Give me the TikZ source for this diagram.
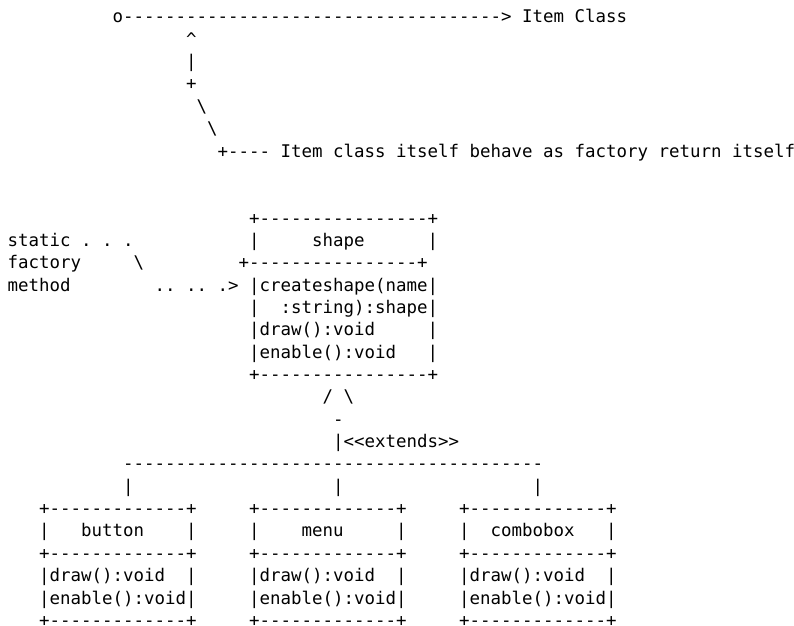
\documentclass[tikz,border=0pt]{standalone}
\usepackage{fontspec}
\setmonofont{DejaVu Sans Mono}
\ExplSyntaxOn
\cs_new:Npn \dashrep #1 { \prg_replicate:nn {#1} {-} }
\ExplSyntaxOff
\tikzset{asciitxt/.style={anchor=base west,inner sep=0pt,outer sep=0pt,
  font=\ttfamily\fontsize{17.44}{22.35}\selectfont,text=black}}
% \ascii{name}{column}{line}{text}
\newcommand\ascii[4]{\node[asciitxt] (#1) at ({7.55pt+#2*10.5pt},{-22.9pt-#3*22.35pt}) {#4};}
\begin{document}
\begin{tikzpicture}
\useasboundingbox (0,0) rectangle (794pt,-625pt);
% top note
\ascii{arrowline}{10}{0}{o\dashrep{36}>}
\ascii{itemclass}{49}{0}{Item Class}
\ascii{caret}{17}{1}{\textasciicircum}
\ascii{bar1}{17}{2}{|}
\ascii{plus1}{17}{3}{+}
\ascii{bs1}{18}{4}{\textbackslash}
\ascii{bs2}{19}{5}{\textbackslash}
\ascii{plus2}{20}{6}{+\dashrep{4}}
\ascii{note}{26}{6}{Item class itself behave as factory return itself}
% shape box
\ascii{shtop}{23}{9}{+\dashrep{16}+}
\ascii{static}{0}{10}{static . . .}
\ascii{shl}{23}{10}{|}
\ascii{shname}{29}{10}{shape}
\ascii{shr}{40}{10}{|}
\ascii{factory}{0}{11}{factory}
\ascii{bs3}{12}{11}{\textbackslash}
\ascii{shmid}{22}{11}{+\dashrep{16}+}
\ascii{method}{0}{12}{method}
\ascii{dots}{14}{12}{.. .. .>}
\ascii{create}{23}{12}{|createshape(name|}
\ascii{strl}{23}{13}{|}
\ascii{str}{26}{13}{:string):shape|}
\ascii{sdraw}{23}{14}{|draw():void}
\ascii{sdrawr}{40}{14}{|}
\ascii{senable}{23}{15}{|enable():void}
\ascii{senabler}{40}{15}{|}
\ascii{shbot}{23}{16}{+\dashrep{16}+}
% inheritance
\ascii{tri}{30}{17}{/ \textbackslash}
\ascii{tribase}{31}{18}{-}
\ascii{extends}{31}{19}{|<{}<extends>{}>}
\ascii{hline}{11}{20}{\dashrep{40}}
\ascii{v1}{11}{21}{|}
\ascii{v2}{31}{21}{|}
\ascii{v3}{50}{21}{|}
% button
\ascii{btop}{3}{22}{+\dashrep{13}+}
\ascii{bl}{3}{23}{|}
\ascii{bname}{7}{23}{button}
\ascii{br}{17}{23}{|}
\ascii{bmid}{3}{24}{+\dashrep{13}+}
\ascii{bdraw}{3}{25}{|draw():void}
\ascii{bdrawr}{17}{25}{|}
\ascii{benable}{3}{26}{|enable():void|}
\ascii{bbot}{3}{27}{+\dashrep{13}+}
% menu
\ascii{mtop}{23}{22}{+\dashrep{13}+}
\ascii{ml}{23}{23}{|}
\ascii{mname}{28}{23}{menu}
\ascii{mr}{37}{23}{|}
\ascii{mmid}{23}{24}{+\dashrep{13}+}
\ascii{mdraw}{23}{25}{|draw():void}
\ascii{mdrawr}{37}{25}{|}
\ascii{menable}{23}{26}{|enable():void|}
\ascii{mbot}{23}{27}{+\dashrep{13}+}
% combobox
\ascii{ctop}{43}{22}{+\dashrep{13}+}
\ascii{cl}{43}{23}{|}
\ascii{cname}{46}{23}{combobox}
\ascii{cr}{57}{23}{|}
\ascii{cmid}{43}{24}{+\dashrep{13}+}
\ascii{cdraw}{43}{25}{|draw():void}
\ascii{cdrawr}{57}{25}{|}
\ascii{cenable}{43}{26}{|enable():void|}
\ascii{cbot}{43}{27}{+\dashrep{13}+}
\end{tikzpicture}
\end{document}
